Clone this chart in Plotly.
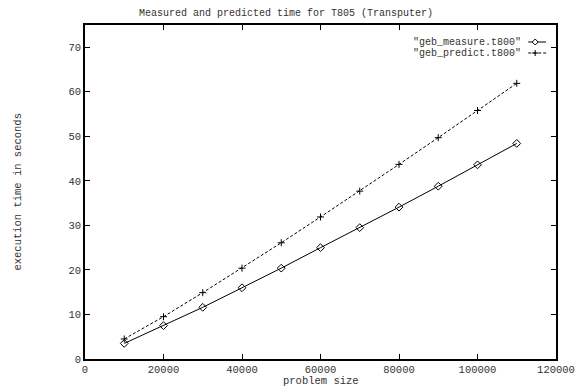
import plotly.graph_objects as go

problem_size = [10000, 20000, 30000, 40000, 50000, 60000, 70000, 80000, 90000, 100000, 110000]
measured = [3.5, 7.5, 11.6, 16.0, 20.4, 25.0, 29.5, 34.1, 38.8, 43.6, 48.4]
predicted = [4.5, 9.5, 14.9, 20.4, 26.1, 31.9, 37.7, 43.7, 49.7, 55.8, 61.9]
x_ticks = [0, 20000, 40000, 60000, 80000, 100000, 120000]
y_ticks = [0, 10, 20, 30, 40, 50, 60, 70]
legend_labels = ['"geb_measure.t800"', '"geb_predict.t800"']

FONT = "Liberation Mono, Courier New, monospace"

fig = go.Figure()
fig.add_trace(go.Scatter(
    x=problem_size, y=measured, mode="lines+markers",
    line=dict(color="black", width=1),
    marker=dict(symbol="diamond-open", size=6, color="black", line=dict(width=1)),
    showlegend=False,
))
fig.add_trace(go.Scatter(
    x=problem_size, y=predicted, mode="lines+markers",
    line=dict(color="black", width=1, dash="3px,2px"),
    marker=dict(symbol="cross-thin-open", size=5, color="black", line=dict(width=1, color="black")),
    showlegend=False,
))

W, H = 587, 388
L, R, T, B = 85, 27, 25, 29
pw, ph = W - L - R, H - T - B

def px(xp):
    return (xp - L) / pw

def py(yp):
    return (H - B - yp) / ph

annotations = []
shapes = []
rows = [42, 53]
for i, (lab, yrow) in enumerate(zip(legend_labels, rows)):
    annotations.append(dict(
        x=px(527), y=py(yrow), xref="paper", yref="paper",
        text=lab, showarrow=False, xanchor="right", yanchor="middle",
        font=dict(family=FONT, size=10, color="#333"),
    ))
    shapes.append(dict(
        type="line", xref="paper", yref="paper",
        x0=px(532), x1=px(550), y0=py(yrow), y1=py(yrow),
        line=dict(color="black", width=1, dash="solid" if i == 0 else "3px,2px"),
    ))
# legend sample markers
cx = 539
d = 3
shapes.append(dict(
    type="path", xref="paper", yref="paper",
    path=f"M {px(cx-d)} {py(rows[0])} L {px(cx)} {py(rows[0]-d)} L {px(cx+d)} {py(rows[0])} L {px(cx)} {py(rows[0]+d)} Z",
    line=dict(color="black", width=1), fillcolor="white",
))
shapes.append(dict(
    type="line", xref="paper", yref="paper",
    x0=px(cx-d), x1=px(cx+d), y0=py(rows[1]), y1=py(rows[1]),
    line=dict(color="black", width=1),
))
shapes.append(dict(
    type="line", xref="paper", yref="paper",
    x0=px(cx), x1=px(cx), y0=py(rows[1]-d), y1=py(rows[1]+d),
    line=dict(color="black", width=1),
))

annotations.append(dict(
    x=(288 - L) / pw, y=py(14), xref="paper", yref="paper",
    text="Measured and predicted time for T805 (Transputer)", showarrow=False,
    xanchor="center", yanchor="middle",
    font=dict(family=FONT, size=10, color="#333"),
))
annotations.append(dict(
    x=px(323), y=py(381), xref="paper", yref="paper",
    text="problem size", showarrow=False, xanchor="center", yanchor="middle",
    font=dict(family=FONT, size=10.5, color="#333"),
))
annotations.append(dict(
    x=px(17), y=py(192), xref="paper", yref="paper",
    text="execution time in seconds", showarrow=False, textangle=-90,
    xanchor="center", yanchor="middle",
    font=dict(family=FONT, size=10.5, color="#333"),
))

axis_common = dict(
    showgrid=False, zeroline=False, showline=True, linecolor="black", linewidth=1.5,
    mirror="ticks", ticks="inside", ticklen=5, tickcolor="black", tickwidth=1,
    tickfont=dict(family=FONT, size=10.5, color="#333"),
)

fig.update_layout(
    width=W, height=H,
    margin=dict(l=L, r=R, t=T, b=B),
    paper_bgcolor="white", plot_bgcolor="white",
    xaxis=dict(range=[0, 120000], tickvals=x_ticks, ticktext=[str(v) for v in x_ticks], **axis_common),
    yaxis=dict(range=[0, 75], tickvals=y_ticks, ticktext=[str(v) for v in y_ticks], **axis_common),
    annotations=annotations, shapes=shapes,
)

fig.write_html("out.html", config={"displayModeBar": False},
               post_script="document.body.style.margin='0';document.body.style.padding='0';")
